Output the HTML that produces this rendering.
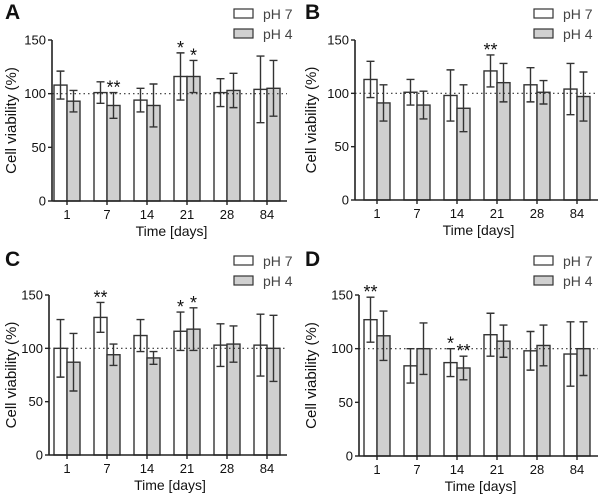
<!DOCTYPE html>
<html><head><meta charset="utf-8"><style>
body{margin:0;background:#fff}
svg{display:block;font-family:"Liberation Sans",Arial,sans-serif}
</style></head><body>
<svg id="fig" width="600" height="494" viewBox="0 0 600 494"></svg>
<script>
const categories = ["1","7","14","21","28","84"];
const yTicks = [0,50,100,150];
const panelLetters = ["A","B","C","D"];
const ph7A = [108,101,94,116,101,104];
const ph7AErr = [13,10,11,22,13,31];
const ph4A = [93,89,89,116,103,105];
const ph4AErr = [10,12,20,15,16,26];
const ph7B = [113,101,98,121,108,104];
const ph7BErr = [17,12,24,15,16,24];
const ph4B = [91,89,86,110,101,97];
const ph4BErr = [17,13,22,18,11,23];
const ph7C = [100,129,112,116,103,103];
const ph7CErr = [27,14,15,18,20,29];
const ph4C = [87,94,91,118,104,100];
const ph4CErr = [27,10,6,20,17,31];
const ph7D = [127,84,87,113,98,95];
const ph7DErr = [21,16,13,20,18,30];
const ph4D = [112,100,82,107,103,100];
const ph4DErr = [23,24,11,15,19,25];
const starPanel = [0,0,0,1,2,2,2,3,3,3];
const starSeries = [0,1,1,0,0,0,1,0,0,1];
const starIndex = [3,3,1,3,1,3,3,0,2,2];
const starText = ["*","*","**","**","**","*","*","**","*","**"];

const NS="http://www.w3.org/2000/svg";
const svg=document.getElementById('fig');
function mk(tag,attrs,parent){const e=document.createElementNS(NS,tag);for(const k in attrs)e.setAttribute(k,attrs[k]);(parent||svg).appendChild(e);return e;}

const layout=[
 {ax:52,y0:201,y150:40,xEnd:287,c0:67,ox:0,oy:0},
 {ax:355,y0:200,y150:40,xEnd:598,c0:377,ox:300,oy:0},
 {ax:49,y0:455,y150:295,xEnd:287,c0:67,ox:0,oy:247},
 {ax:359,y0:456,y150:295,xEnd:598,c0:377,ox:300,oy:247}
];
const data=[[ph7A,ph7AErr,ph4A,ph4AErr],[ph7B,ph7BErr,ph4B,ph4BErr],[ph7C,ph7CErr,ph4C,ph4CErr],[ph7D,ph7DErr,ph4D,ph4DErr]];
const step=40,bw=13;

layout.forEach((L,p)=>{
  const g=mk('g',{});
  
  
  const yS=v=>L.y0-(v/150)*(L.y0-L.y150);
  const xS=i=>L.c0+i*step;
  const lt=mk('text',{x:L.ox+5,y:L.oy+19,'font-size':21,'font-weight':'bold',fill:'#111'},g);
  lt.textContent=panelLetters[p];
  
  
  const [v7,e7,v4,e4]=data[p];
  [[v7,e7,'#fff',-bw,'ph7'],[v4,e4,'#d0d0d0',0,'ph4']].forEach(([vals,errs,fill,off,nm])=>{
    vals.forEach((v,i)=>{
      const x=xS(i)+off;
      const r=mk('rect',{x:x,y:yS(v),width:bw,height:L.y0-yS(v),fill:fill,stroke:'#333','stroke-width':1.4},g);
      
      
    });
    vals.forEach((v,i)=>{
      const cx=xS(i)+off+bw/2;
      const t=yS(v+errs[i]),b=yS(v-errs[i]);
      const eb=mk('path',{d:`M${cx},${t}V${b}M${cx-4},${t}H${cx+4}M${cx-4},${b}H${cx+4}`,stroke:'#333','stroke-width':1.4,fill:'none'},g);
      
      
    });
  });
  const dl=mk('line',{x1:L.ax,x2:L.xEnd,y1:yS(100),y2:yS(100),stroke:'#333','stroke-width':1.2,'stroke-dasharray':'1.5,3'},g);
  
  
  const ya=mk('line',{x1:L.ax,x2:L.ax,y1:L.y150,y2:L.y0,stroke:'#222','stroke-width':1.6},g);
  
  
  const xa=mk('line',{x1:L.ax,x2:L.xEnd,y1:L.y0,y2:L.y0,stroke:'#222','stroke-width':1.6},g);
  
  
  yTicks.forEach(t=>{
    mk('line',{x1:L.ax-4,x2:L.ax,y1:yS(t),y2:yS(t),stroke:'#222','stroke-width':1.4},g);
    const tl=mk('text',{x:L.ax-6,y:yS(t)+4.5,'font-size':13,'text-anchor':'end',fill:'#111'},g);
    tl.textContent=t;
    
    
  });
  categories.forEach((c,i)=>{
    mk('line',{x1:xS(i),x2:xS(i),y1:L.y0,y2:L.y0+4,stroke:'#222','stroke-width':1.4},g);
    const tl=mk('text',{x:xS(i),y:L.y0+18,'font-size':13,'text-anchor':'middle',fill:'#111'},g);
    tl.textContent=c;
    
    
  });
  const xt=mk('text',{x:(L.ax+L.xEnd)/2+2,y:L.y0+35,'font-size':14,'text-anchor':'middle',fill:'#111'},g);
  xt.textContent='Time [days]';
  
  
  const yc=(L.y0+L.y150)/2;
  const yt=mk('text',{x:0,y:0,'font-size':15,'text-anchor':'middle',fill:'#111',transform:`translate(${L.ox+16},${yc}) rotate(-90)`},g);
  yt.textContent='Cell viability (%)';
  
  
  const lx=L.ox+234, ly=L.oy+9;
  [['pH 7','#fff'],['pH 4','#d0d0d0']].forEach(([lab,f],k)=>{
    const lg=mk('g',{},g);
    
    
    mk('rect',{x:lx,y:ly+k*20,width:19,height:9,fill:f,stroke:'#333','stroke-width':1.2},lg);
    const tx=mk('text',{x:lx+29,y:ly+k*20+10,'font-size':14,fill:'#444'},lg);
    tx.textContent=lab;
  });
});
starText.forEach((s,k)=>{
  const p=starPanel[k],L=layout[p];
  const yS=v=>L.y0-(v/150)*(L.y0-L.y150);
  const d=data[p];
  const ser=starSeries[k],i=starIndex[k];
  const v=d[ser*2][i]+d[ser*2+1][i];
  const cx=L.c0+i*step+(ser===0?-bw/2:bw/2);
  const t=mk('text',{x:cx,y:yS(v)+1,'font-size':18,'text-anchor':'middle',fill:'#111'});
  t.textContent=s;
  
  
});
</script>
</body></html>
